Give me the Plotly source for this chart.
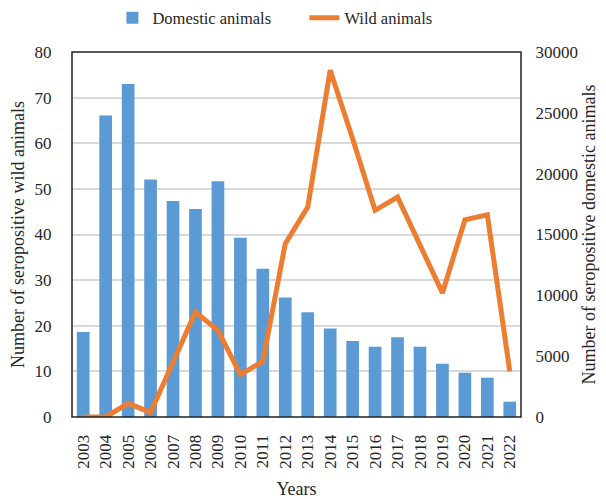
import plotly.graph_objects as go

years = [str(y) for y in range(2003, 2023)]
domestic = [6990, 24790, 27370, 19530, 17750, 17100, 19370, 14740, 12190, 9830,
            8600, 7280, 6245, 5780, 6545, 5780, 4380, 3640, 3230, 1260]
wild = [0, 0, 3, 1, 12, 23, 19, 9.3, 12.2, 38, 46, 76, 61, 45.3, 48.2, 38, 27.2, 43.2, 44.3, 10]

FONT = "Liberation Serif"
TXT = "#262626"
GRID = "#D9D9D9"

def f(size):
    return dict(family=FONT, size=size, color=TXT)

fig = go.Figure()
fig.add_trace(go.Bar(x=years, y=domestic, name="Domestic animals",
                     marker=dict(color="#5B9BD5", line=dict(width=0)), yaxis="y"))
fig.add_trace(go.Scatter(x=years, y=wild, name="Wild animals", mode="lines",
                         line=dict(color="#ED7D31", width=5), yaxis="y2"))

fig.update_layout(
    template="none",
    width=606, height=499,
    margin=dict(l=72, r=85, t=52, b=82, autoexpand=False),
    paper_bgcolor="white", plot_bgcolor="white",
    font=f(17),
    bargap=0.435,
    showlegend=True,
    legend=dict(orientation="h", x=0.09, xanchor="left", y=1.093, yanchor="middle",
                entrywidth=147, entrywidthmode="pixels",
                font=f(16.5), bgcolor="rgba(0,0,0,0)"),
    xaxis=dict(type="category", tickangle=-90, showgrid=False, showline=False,
               zeroline=False, automargin=False,
               ticks="outside", ticklen=10, tickcolor="rgba(0,0,0,0)",
               tickfont=f(17),
               title=dict(text="Years", font=f(18), standoff=22)),
    yaxis=dict(side="right", range=[0, 30000], dtick=5000, tick0=0, tickformat="d",
               showgrid=False, zeroline=False, showline=False, automargin=False,
               ticks="outside", ticklen=10, tickcolor="rgba(0,0,0,0)",
               tickfont=f(17),
               title=dict(text="Number of seropositive domestic animals",
                          font=f(18), standoff=5)),
    yaxis2=dict(side="left", overlaying="y", range=[0, 80], dtick=10, tick0=0,
                showgrid=True, gridcolor=GRID, gridwidth=1.5,
                zeroline=False, showline=False, automargin=False,
                ticks="outside", ticklen=16, tickcolor="rgba(0,0,0,0)",
                tickfont=f(17),
                title=dict(text="Number of seropositive wild animals",
                           font=f(18), standoff=5)),
    shapes=[dict(type="rect", xref="paper", yref="paper", x0=0, x1=1, y0=0, y1=1,
                 line=dict(color="#222222", width=1.5), layer="above")],
)

fig.write_html("out.html")
